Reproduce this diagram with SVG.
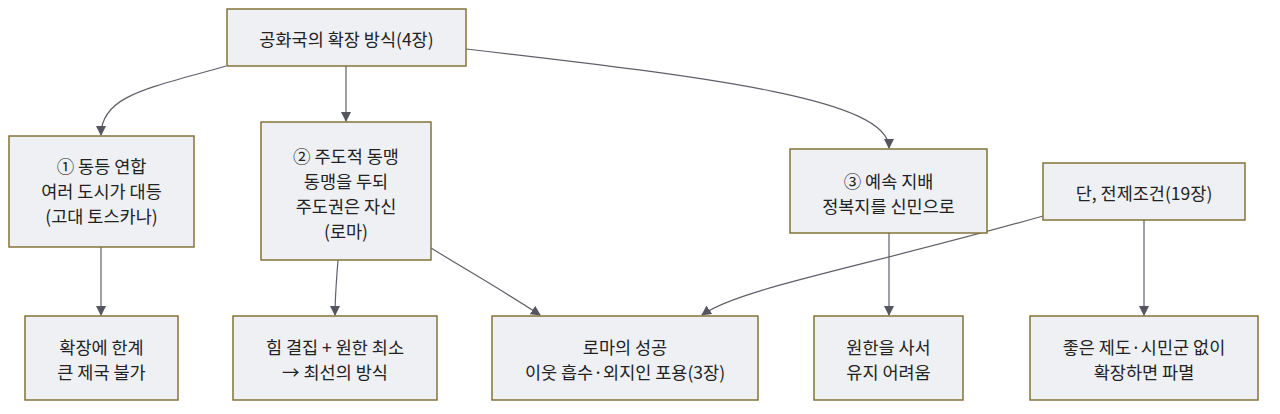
<svg xmlns="http://www.w3.org/2000/svg" width="1280" height="414" viewBox="0 0 1280 414">
<style>
.box{fill:#eef0f4;stroke:#7d6a2c;stroke-width:1.4}
.t{font-family:"Noto Sans CJK KR","Noto Sans",sans-serif;font-size:17.5px;fill:#222;text-anchor:middle;dominant-baseline:central}
.e{fill:none;stroke:#5f5f6a;stroke-width:1.2}
</style>
<defs>
<marker id="arr" viewBox="0 0 10 10" refX="9" refY="5" markerWidth="10" markerHeight="10" markerUnits="userSpaceOnUse" orient="auto">
<path d="M0,0 L10,5 L0,10 z" fill="#55555f"/>
</marker>
</defs>
<rect width="1280" height="414" fill="#ffffff"/>
<g id="edges">
<path class="e" d="M226,66 C150,88 101,95 101,135" marker-end="url(#arr)"/>
<path class="e" d="M346,66 L346,121" marker-end="url(#arr)"/>
<path class="e" d="M466,49 C720,78 889,100 889,148" marker-end="url(#arr)"/>
<path class="e" d="M101,247 L101,315" marker-end="url(#arr)"/>
<path class="e" d="M338,260 C336,285 335,300 335,315" marker-end="url(#arr)"/>
<path class="e" d="M431,248 C470,272 505,292 540,315" marker-end="url(#arr)"/>
<path class="e" d="M889,233 L889,315" marker-end="url(#arr)"/>
<path class="e" d="M1043,216 C860,268 740,288 702,315" marker-end="url(#arr)"/>
<path class="e" d="M1144,220 L1144,315" marker-end="url(#arr)"/>
</g>
<g id="n0"><rect class="box" x="227" y="9" width="239" height="57"/><text class="t" x="346.5" y="38">공화국의 확장 방식(4장)</text></g>
<g id="n1"><rect class="box" x="9" y="136" width="185" height="111"/>
<text class="t" x="101.5" y="165">① 동등 연합</text><text class="t" x="101.5" y="190">여러 도시가 대등</text><text class="t" x="101.5" y="215">(고대 토스카나)</text></g>
<g id="n2"><rect class="box" x="261" y="122" width="170" height="138"/>
<text class="t" x="346" y="155">② 주도적 동맹</text><text class="t" x="346" y="180">동맹을 두되</text><text class="t" x="346" y="205">주도권은 자신</text><text class="t" x="346" y="230">(로마)</text></g>
<g id="n3"><rect class="box" x="790" y="149" width="197" height="84"/>
<text class="t" x="888.5" y="180">③ 예속 지배</text><text class="t" x="888.5" y="205">정복지를 신민으로</text></g>
<g id="n4"><rect class="box" x="1043" y="163" width="202" height="57"/><text class="t" x="1144" y="192">단, 전제조건(19장)</text></g>
<g id="n5"><rect class="box" x="25" y="316" width="153" height="84"/>
<text class="t" x="101.5" y="346">확장에 한계</text><text class="t" x="101.5" y="371">큰 제국 불가</text></g>
<g id="n6"><rect class="box" x="233" y="316" width="204" height="84"/>
<text class="t" x="335" y="346">힘 결집 + 원한 최소</text><text class="t" x="335" y="371">→ 최선의 방식</text></g>
<g id="n7"><rect class="box" x="492" y="316" width="266" height="84"/>
<text class="t" x="625" y="346">로마의 성공</text><text class="t" x="625" y="371">이웃 흡수·외지인 포용(3장)</text></g>
<g id="n8"><rect class="box" x="814" y="316" width="149" height="84"/>
<text class="t" x="888.5" y="346">원한을 사서</text><text class="t" x="888.5" y="371">유지 어려움</text></g>
<g id="n9"><rect class="box" x="1030" y="316" width="228" height="84"/>
<text class="t" x="1144" y="346">좋은 제도·시민군 없이</text><text class="t" x="1144" y="371">확장하면 파멸</text></g>
</svg>
